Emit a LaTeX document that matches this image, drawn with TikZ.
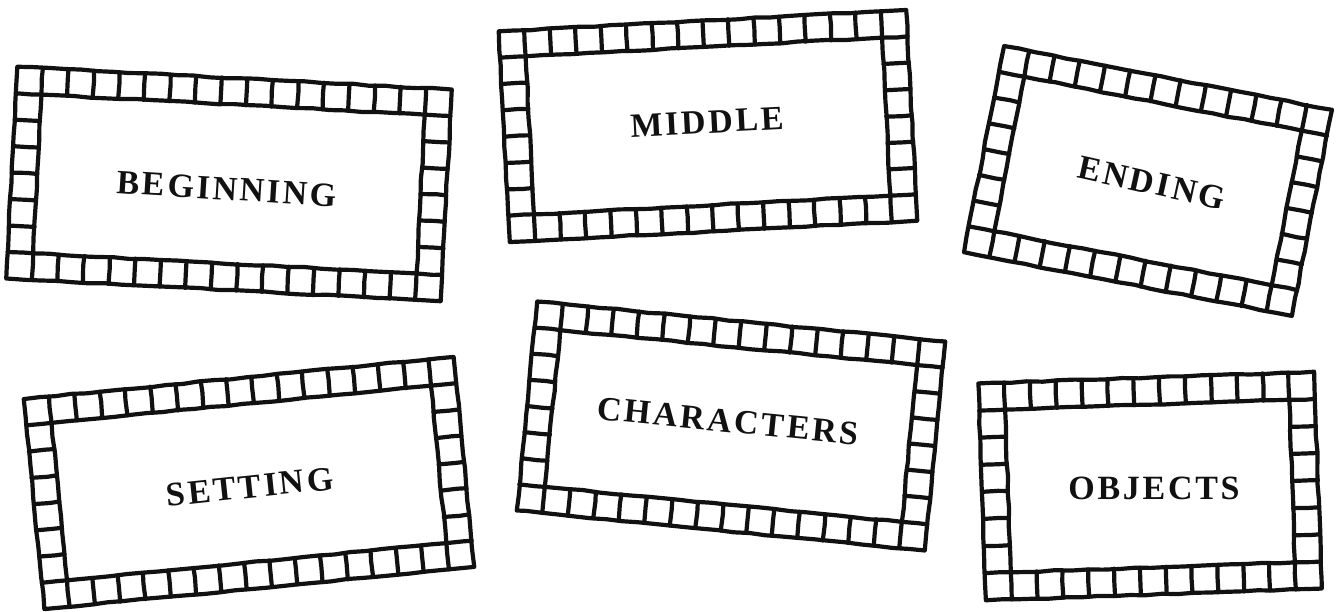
\documentclass[tikz,border=0pt]{standalone}
\usepackage{fontspec}
\usepackage{tikz}
\usetikzlibrary{positioning, calc, decorations.pathmorphing}
\newfontfamily\cardfont[LetterSpace=8]{Liberation Serif}
\definecolor{inkblack}{HTML}{111111}

\tikzset{
  filmline/.style={draw=inkblack, line width=4.2pt, line join=round, line cap=round,
    decorate, decoration={random steps, segment length=16pt, amplitude=0.6pt}},
  cardtext/.style={text=inkblack, font=\cardfont\bfseries\fontsize{34}{38}\selectfont, inner sep=0pt, anchor=center}
}

% film-strip frame: centre, angle, width, height, cells across, cells down
\newcommand{\filmframe}[6]{%
  \begin{scope}[shift={#1}, rotate=#2]
    \pgfmathsetmacro{\fw}{#3/2}
    \pgfmathsetmacro{\fh}{#4/2}
    \pgfmathsetmacro{\cw}{#3/#5}
    \pgfmathsetmacro{\ch}{#4/#6}
    \pgfmathtruncatemacro{\nx}{#5-1}
    \pgfmathtruncatemacro{\ny}{#6-1}
    \draw[filmline] (-\fw,-\fh) rectangle (\fw,\fh);
    \draw[filmline] (-\fw+\cw,-\fh+\ch) rectangle (\fw-\cw,\fh-\ch);
    \foreach \i in {1,...,\nx} {
      \draw[filmline] (-\fw+\i*\cw,\fh-\ch) -- (-\fw+\i*\cw,\fh);
      \draw[filmline] (-\fw+\i*\cw,-\fh) -- (-\fw+\i*\cw,-\fh+\ch);
    }
    \foreach \j in {1,...,\ny} {
      \draw[filmline] (-\fw,-\fh+\j*\ch) -- (-\fw+\cw,-\fh+\j*\ch);
      \draw[filmline] (\fw-\cw,-\fh+\j*\ch) -- (\fw,-\fh+\j*\ch);
    }
  \end{scope}}

\begin{document}
\begin{tikzpicture}[x=1pt, y=1pt]
  \pgfmathsetseed{7}
  \fill[white] (0,0) rectangle (1338,611);
  \useasboundingbox (0,0) rectangle (1338,611);

  % top row
  \filmframe{(229,427)}{-3}{435}{212}{17}{8}
  \filmframe{(708,485)}{3}{408}{211}{16}{8}
  \filmframe{(1148,430)}{-11}{334}{210}{13}{8}
  % bottom row
  \filmframe{(249,128)}{5.6}{432}{211}{17}{8}
  \filmframe{(731,185)}{-5.6}{410}{210}{16}{8}
  \filmframe{(1150,125)}{2}{336}{217}{13}{8}

  \node[cardtext, rotate=-3.5] (beginning) at (227,422) {BEGINNING};
  \node[cardtext, rotate=3] (middle) at (707,489) {MIDDLE};
  \node[cardtext, rotate=-12.5] (ending) at (1152,428) {ENDING};
  \node[cardtext, rotate=6] (setting) at (250,124) {SETTING};
  \node[cardtext, rotate=-5.7] (characters) at (728,190) {CHARACTERS};
  \node[cardtext] (objects) at (1154,123) {OBJECTS};
\end{tikzpicture}
\end{document}
